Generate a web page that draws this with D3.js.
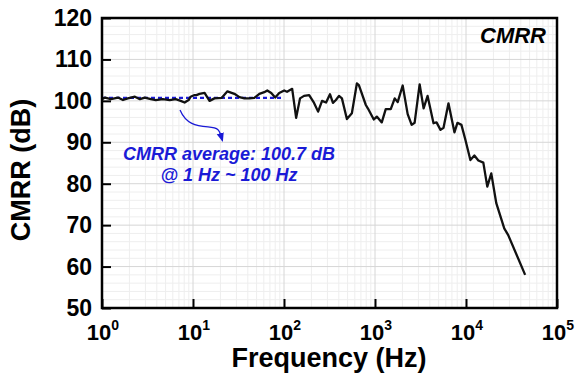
<!DOCTYPE html>
<html>
<head>
<meta charset="utf-8">
<script src="https://cdn.jsdelivr.net/npm/d3@7"></script>
<style>
  body { margin: 0; background: #fff; }
  text { font-family: "Liberation Sans", Arial, sans-serif; font-weight: bold; }
</style>
</head>
<body>
<svg id="chart" width="583" height="383"></svg>
<script>
// measured CMRR curve (frequency in Hz, CMRR in dB)
var freq = [1, 1.08, 1.25, 1.5, 1.7, 1.92, 2.3, 2.61, 2.95, 3.44, 3.9, 4.65, 5.55, 6.45, 7.32, 8.09, 8.95, 9.42,
  10.4, 10.9, 11.8, 13.4, 15.2, 17.2, 20.6, 23.9, 28.5, 32.4, 36.7, 41.6, 47.2, 53.6, 60.7, 65.5, 72.4, 80.1, 88.6,
  100.5, 108, 123, 136, 150, 166, 189, 214, 237, 262, 290, 320, 345, 372, 402, 433, 491, 557, 632, 665, 793, 834, 970,
  1047, 1187, 1312, 1490, 1647, 1775, 2014, 2286, 2529, 2725, 3093, 3420, 3784, 4397, 4745, 5248, 5662, 6417, 7464,
  8054, 8907, 9845, 11170, 12360, 13670, 15500, 17140, 18960, 21520, 26320, 29110, 44660];
var cmrr = [100.4, 100.8, 100.4, 100.8, 100.2, 100.6, 101.0, 100.4, 100.8, 100.4, 100.2, 100.4, 100.2, 100.4, 100.0, 99.6, 100.2, 101.0,
  101.4, 101.4, 101.7, 101.9, 100.0, 100.6, 100.7, 102.3, 101.7, 100.9, 100.6, 100.6, 100.7, 101.7, 102.1, 102.5, 101.9, 100.8, 101.9,
  102.5, 102.2, 102.9, 95.9, 100.6, 101.2, 101.4, 99.5, 97.4, 100.0, 99.6, 101.6, 99.5, 100.2, 101.2, 100.6, 95.6, 97.0, 104.2, 103.8, 99.0, 98.2, 95.5,
  96.2, 94.8, 98.0, 98.0, 100.6, 99.7, 103.7, 96.8, 94.2, 94.7, 104.0, 98.2, 101.2, 94.6, 94.8, 93.0, 93.5, 99.4, 92.4,
  94.7, 94.2, 90.6, 85.7, 86.8, 85.6, 85.1, 79.3, 82.5, 75.3, 69.2, 67.6, 58.0];

var avgValue = 100.7;
var avgRange = [1, 100];
var xTicks = [1, 10, 100, 1000, 10000, 100000];
var xExponents = ["0", "1", "2", "3", "4", "5"];
var yTicks = [50, 60, 70, 80, 90, 100, 110, 120];

var svg = d3.select("#chart");
var blue = "#1a1ad6";

/*** Scales ***/
var xScale = d3.scaleLog().domain([1, 1e5]).range([102, 557]);
var yScale = d3.scaleLinear().domain([50, 120]).range([308, 18]);

/*** Grid ***/
var minorX = [];
for (var e = 0; e < 5; e++) {
  for (var m = 2; m < 10; m++) minorX.push(m * Math.pow(10, e));
}
var minorY = d3.range(52, 120, 2).filter(d => d % 10 !== 0);

var grid = svg.append("g");
grid.selectAll(".mx").data(minorX).join("line")
  .attr("x1", d => xScale(d)).attr("x2", d => xScale(d))
  .attr("y1", yScale(50)).attr("y2", yScale(120))
  .attr("stroke", "#eeeeee").attr("stroke-width", 1);
grid.selectAll(".my").data(minorY).join("line")
  .attr("x1", xScale(1)).attr("x2", xScale(1e5))
  .attr("y1", d => yScale(d)).attr("y2", d => yScale(d))
  .attr("stroke", "#eeeeee").attr("stroke-width", 1);
grid.selectAll(".Mx").data(xTicks).join("line")
  .attr("x1", d => xScale(d)).attr("x2", d => xScale(d))
  .attr("y1", yScale(50)).attr("y2", yScale(120))
  .attr("stroke", "#d6d6d6").attr("stroke-width", 1);
grid.selectAll(".My").data(yTicks).join("line")
  .attr("x1", xScale(1)).attr("x2", xScale(1e5))
  .attr("y1", d => yScale(d)).attr("y2", d => yScale(d))
  .attr("stroke", "#d6d6d6").attr("stroke-width", 1);

/*** Average line ***/
svg.append("line")
  .attr("x1", xScale(avgRange[0])).attr("x2", xScale(avgRange[1]))
  .attr("y1", yScale(avgValue)).attr("y2", yScale(avgValue))
  .attr("stroke", blue).attr("stroke-width", 2.2)
  .attr("stroke-dasharray", "4,3");

/*** Data line ***/
var line = d3.line()
  .x((d, i) => xScale(freq[i]))
  .y(d => yScale(d));

svg.append("path")
  .datum(cmrr)
  .attr("d", line)
  .attr("fill", "none")
  .attr("stroke", "#111")
  .attr("stroke-width", 2.3)
  .attr("stroke-linejoin", "round");

/*** Axes (inward ticks) ***/
var xAxis = d3.axisTop(xScale).tickValues(xTicks).tickSize(9).tickFormat("");
svg.append("g")
  .attr("transform", "translate(0," + yScale(50) + ")")
  .call(xAxis)
  .call(g => g.select(".domain").remove())
  .selectAll("line").attr("stroke", "#000").attr("stroke-width", 2);

var yAxis = d3.axisRight(yScale).tickValues(yTicks).tickSize(9).tickFormat("");
svg.append("g")
  .attr("transform", "translate(" + xScale(1) + ",0)")
  .call(yAxis)
  .call(g => g.select(".domain").remove())
  .selectAll("line").attr("stroke", "#000").attr("stroke-width", 2);

// frame
svg.append("rect")
  .attr("x", xScale(1)).attr("y", yScale(120))
  .attr("width", xScale(1e5) - xScale(1))
  .attr("height", yScale(50) - yScale(120))
  .attr("fill", "none").attr("stroke", "#000").attr("stroke-width", 2.5);

/*** Tick labels ***/
svg.selectAll(".ylab").data(yTicks).join("text")
  .attr("x", 92).attr("y", d => yScale(d) + 8)
  .attr("text-anchor", "end")
  .attr("font-size", 23)
  .text(d => d);

var xl = svg.selectAll(".xlab").data(xTicks).join("text")
  .attr("x", d => xScale(d) + 1).attr("y", 340)
  .attr("text-anchor", "middle")
  .attr("font-size", 22);
xl.append("tspan").text("10");
xl.append("tspan").attr("dy", -10).attr("font-size", 14).text((d, i) => xExponents[i]);

/*** Axis titles ***/
svg.append("text")
  .attr("x", 329).attr("y", 367)
  .attr("text-anchor", "middle")
  .attr("font-size", 27)
  .text("Frequency (Hz)");

svg.append("text")
  .attr("transform", "translate(30,170) rotate(-90)")
  .attr("text-anchor", "middle")
  .attr("font-size", 27)
  .text("CMRR (dB)");

svg.append("text")
  .attr("x", 546).attr("y", 43)
  .attr("text-anchor", "end")
  .attr("font-size", 22)
  .attr("font-style", "italic")
  .text("CMRR");

/*** Annotation ***/
svg.append("defs").append("marker")
  .attr("id", "arrow")
  .attr("viewBox", "0 0 10 10")
  .attr("refX", 8).attr("refY", 5)
  .attr("markerWidth", 7).attr("markerHeight", 7)
  .attr("orient", "auto")
  .append("path").attr("d", "M0,1 L10,5 L0,9 Z").attr("fill", blue);

var a0 = [xScale(7.2), yScale(97.8)];
var a1 = [xScale(21), yScale(90.5)];
svg.append("path")
  .attr("d", "M" + a0[0] + "," + a0[1] +
    " C" + (a0[0] + 6) + "," + (a0[1] + 14) + " " + (a0[0] + 16) + "," + (a0[1] + 16) +
    " " + (a0[0] + 28) + "," + (a0[1] + 17) +
    " S" + (a1[0] - 3) + "," + (a1[1] - 10) + " " + a1[0] + "," + a1[1])
  .attr("fill", "none")
  .attr("stroke", blue)
  .attr("stroke-width", 1.3)
  .attr("marker-end", "url(#arrow)");

svg.append("text")
  .attr("x", 229).attr("y", 160)
  .attr("text-anchor", "middle")
  .attr("font-size", 18).attr("font-style", "italic")
  .attr("fill", blue)
  .text("CMRR average: 100.7 dB");
svg.append("text")
  .attr("x", 229).attr("y", 181)
  .attr("text-anchor", "middle")
  .attr("font-size", 18).attr("font-style", "italic")
  .attr("fill", blue)
  .text("@ 1 Hz ~ 100 Hz");
</script>
</body>
</html>
